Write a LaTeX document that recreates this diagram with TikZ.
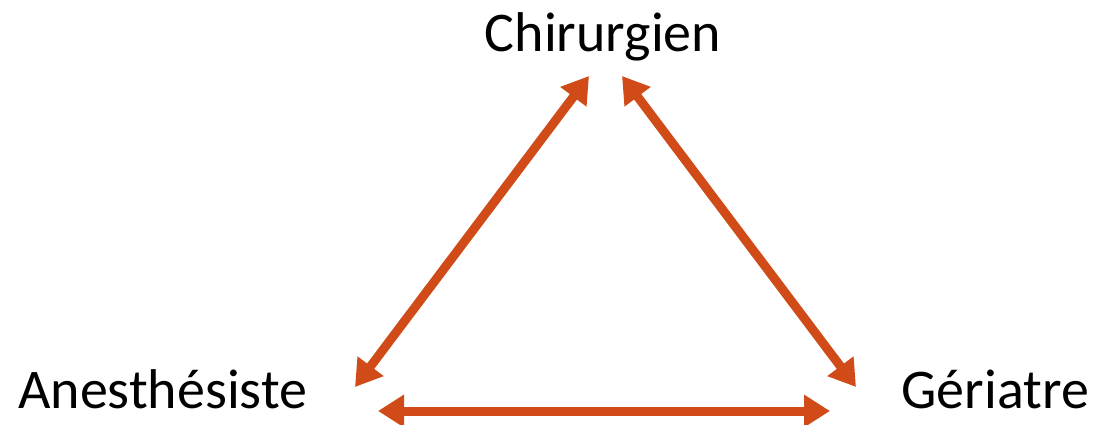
\documentclass[tikz,border=0pt]{standalone}
\usepackage{fontspec}
\setmainfont{Carlito}
\usetikzlibrary{arrows.meta}
\definecolor{arrowc}{RGB}{209,75,25}
\begin{document}
\begin{tikzpicture}[x=1pt,y=-1pt,
  lbl/.style={inner sep=0pt,font=\fontsize{56}{60}\selectfont},
  link/.style={draw=arrowc,line width=9pt,{Triangle[length=26pt,width=31pt]}-{Triangle[length=26pt,width=31pt]}}]
\useasboundingbox (0,0) rectangle (1094,425);
\node[lbl,anchor=base] (chir) at (603,52) {Chirurgien};
\node[lbl,anchor=base west] (anes) at (18,408) {Anesthésiste};
\node[lbl,anchor=base east] (geri) at (1089,408) {Gériatre};
\coordinate (ct1) at (589,76);
\coordinate (ab1) at (355,387);
\coordinate (ct2) at (622,76);
\coordinate (gb1) at (856,387);
\coordinate (ah) at (378,411);
\coordinate (gh) at (830,411);
\draw[link] (ab1) -- (ct1);
\draw[link] (gb1) -- (ct2);
\draw[link] (ah) -- (gh);
\end{tikzpicture}
\end{document}
